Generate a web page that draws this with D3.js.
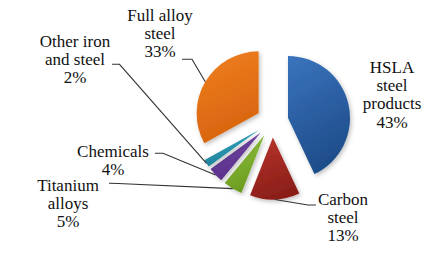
<!DOCTYPE html>
<html><head><meta charset="utf-8">
<script src="https://cdn.jsdelivr.net/npm/d3@7/dist/d3.min.js"></script>
</head><body style="margin:0">
<svg id="chart" width="435" height="254"></svg>
<script>
// ---- data ----
const categories = ["HSLA steel products", "Carbon steel", "Titanium alloys", "Chemicals", "Other iron and steel", "Full alloy steel"];
const values = [43, 13, 5, 4, 2, 33];
const labelLines = [
  ["HSLA", "steel", "products", "43%"],
  ["Carbon", "steel", "13%"],
  ["Titanium", "alloys", "5%"],
  ["Chemicals", "4%"],
  ["Other iron", "and steel", "2%"],
  ["Full alloy", "steel", "33%"]
];

// ---- layout / style (not data) ----
const center = [272.4, 121.5];
const radius = 62;
const explode = 16;
const lineStep = 18.2;
const fontSize = 17;
const colorsTop = ["#3a74bd", "#b8352c", "#8fc23c", "#7649aa", "#34a9c6", "#f0801f"];
const colorsBot = ["#1f4d8b", "#8c1f19", "#6c9c22", "#58308a", "#1f8198", "#d8640f"];
// label anchor (center x, first baseline y)
const labelAnchor = [[392, 73], [343, 205], [68, 191], [113, 156.7], [75, 46.7], [160, 21]];
// leader start & elbow (null = no leader)
const leaderStart = [null, [316, 205], [109, 183.3], [155, 153.3], [112, 64.3], [182, 59.3]];
const leaderElbow = [null, [308, 205], [118, 183.5], [163, 153.3], [119.5, 64.3], [192, 59.3]];

const svg = d3.select("#chart");
const defs = svg.append("defs");

const filt = defs.append("filter").attr("id", "shadow")
  .attr("x", "-20%").attr("y", "-20%").attr("width", "140%").attr("height", "140%");
filt.append("feDropShadow").attr("dx", 1.5).attr("dy", 2).attr("stdDeviation", 2)
  .attr("flood-color", "#000").attr("flood-opacity", 0.25);

categories.forEach((c, i) => {
  const g = defs.append("linearGradient").attr("id", "grad" + i)
    .attr("x1", "0").attr("y1", "0").attr("x2", "0.3").attr("y2", "1");
  g.append("stop").attr("offset", "0%").attr("stop-color", colorsTop[i]);
  g.append("stop").attr("offset", "100%").attr("stop-color", colorsBot[i]);
});

const pie = d3.pie().sort(null).value(d => d).startAngle(0).endAngle(2 * Math.PI);
const arcs = pie(values);
const arc = d3.arc().innerRadius(0).outerRadius(radius);

function offsetOf(a) {
  const mid = (a.startAngle + a.endAngle) / 2;
  return [center[0] + explode * Math.sin(mid), center[1] - explode * Math.cos(mid)];
}

svg.append("g").selectAll("path").data(arcs).enter().append("path")
  .attr("transform", d => { const o = offsetOf(d); return `translate(${o[0]},${o[1]})`; })
  .attr("d", arc)
  .attr("fill", (d, i) => `url(#grad${i})`)
  .attr("filter", "url(#shadow)");

// leader lines
const lineGen = d3.line();
arcs.forEach((a, i) => {
  if (!leaderStart[i]) return;
  const o = offsetOf(a);
  const mid = (a.startAngle + a.endAngle) / 2;
  const end = [o[0] + radius * Math.sin(mid), o[1] - radius * Math.cos(mid)];
  svg.append("path")
    .attr("d", lineGen([leaderStart[i], leaderElbow[i], end]))
    .attr("fill", "none").attr("stroke", "#333").attr("stroke-width", 1.1);
});

// labels (one text element per line, centred by measurement)
labelLines.forEach((lines, i) => {
  lines.forEach((ln, k) => {
    const t = svg.append("text")
      .attr("x", labelAnchor[i][0])
      .attr("y", labelAnchor[i][1] + k * lineStep)
      .attr("font-size", fontSize)
      .style("font-family", '"Liberation Serif"')
      .attr("fill", "#111")
      .text(ln);
    const w = t.node().getComputedTextLength();
    t.attr("x", labelAnchor[i][0] - w / 2);
  });
});
</script></body></html>
